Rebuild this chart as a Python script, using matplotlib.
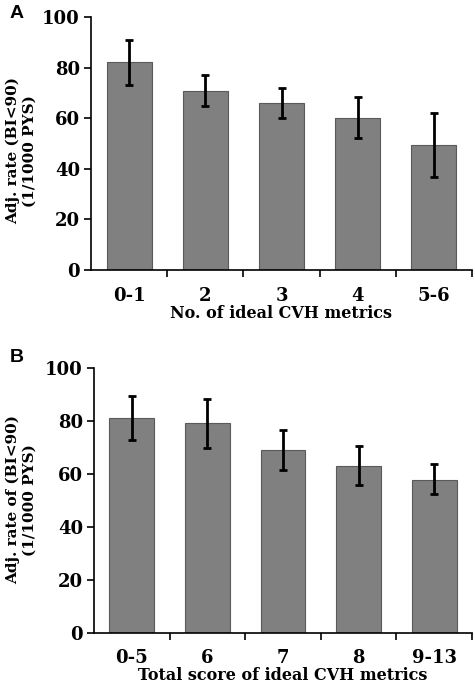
import matplotlib
matplotlib.use("Agg")
import matplotlib.pyplot as plt
import numpy as np

cats_a = ["0-1", "2", "3", "4", "5-6"]
vals_a = [82.1, 70.9, 66.1, 60.2, 49.3]
err_lo_a = [73.1, 64.8, 60.2, 52.3, 36.6]
err_hi_a = [90.9, 77.0, 72.1, 68.3, 61.9]

cats_b = ["0-5", "6", "7", "8", "9-13"]
vals_b = [81.1, 79.0, 68.9, 62.8, 57.7]
err_lo_b = [72.7, 69.8, 61.5, 55.6, 52.2]
err_hi_b = [89.4, 88.3, 76.6, 70.5, 63.7]

yticks = [0, 20, 40, 60, 80, 100]

FONT = "DejaVu Serif"
BAR_COLOR = "#808080"
EDGE_COLOR = "#5a5a5a"

fig = plt.figure(figsize=(4.75, 6.86), dpi=100)

def panel(rect, cats, vals, lo, hi, xlabel, ylabel, ylabel_xy, letter, letter_xy):
    ax = fig.add_axes(rect)
    x = np.arange(len(cats))
    vals = np.array(vals)
    yerr = np.vstack([vals - np.array(lo), np.array(hi) - vals])
    ax.bar(x, vals, width=0.59, color=BAR_COLOR, edgecolor=EDGE_COLOR, linewidth=0.8, zorder=2)
    ax.errorbar(x, vals, yerr=yerr, fmt="none", ecolor="black", elinewidth=2.0,
                capsize=3, capthick=2.0, zorder=3)
    ax.set_xlim(-0.5, len(cats) - 0.5)
    ax.set_ylim(0, 100)
    ax.set_yticks(yticks)
    ax.set_yticklabels([str(t) for t in yticks], fontfamily=FONT, fontweight="bold", fontsize=13)
    ax.set_xticks(x)
    ax.set_xticklabels(cats, fontfamily=FONT, fontweight="bold", fontsize=13)
    ax.set_xticks(np.arange(len(cats)) + 0.5, minor=True)
    ax.tick_params(axis="x", which="major", length=0, pad=12)
    ax.tick_params(axis="x", which="minor", length=5, width=1.2, direction="out")
    ax.tick_params(axis="y", which="major", length=5, width=1.2, direction="out", pad=3)
    for s in ["top", "right"]:
        ax.spines[s].set_visible(False)
    for s in ["left", "bottom"]:
        ax.spines[s].set_linewidth(1.2)
    ax.set_xlabel(xlabel, fontfamily=FONT, fontweight="bold", fontsize=11.5, labelpad=0)
    fig.text(ylabel_xy[0], ylabel_xy[1], ylabel, rotation=90, ha="center", va="center",
             multialignment="center", fontfamily=FONT, fontweight="bold", fontsize=11,
             linespacing=1.2)
    fig.text(letter_xy[0], letter_xy[1], letter, ha="center", va="center",
             fontfamily="Liberation Sans", fontweight="bold", fontsize=14)
    return ax

W, H = 475.0, 686.0
panel([91 / W, 1 - 270 / H, 381 / W, 253 / H], cats_a, vals_a, err_lo_a, err_hi_a,
      "No. of ideal CVH metrics", "Adj. rate (BI<90)\n(1/1000 PYS)",
      (21 / W, 1 - 151 / H), "A", (17 / W, 1 - 14 / H))
panel([94 / W, 1 - 632.7 / H, 378 / W, 265 / H], cats_b, vals_b, err_lo_b, err_hi_b,
      "Total score of ideal CVH metrics", "Adj. rate of (BI<90)\n(1/1000 PYS)",
      (21 / W, 1 - 500 / H), "B", (17 / W, 1 - 357 / H))

fig.savefig("out.png", dpi=100)
